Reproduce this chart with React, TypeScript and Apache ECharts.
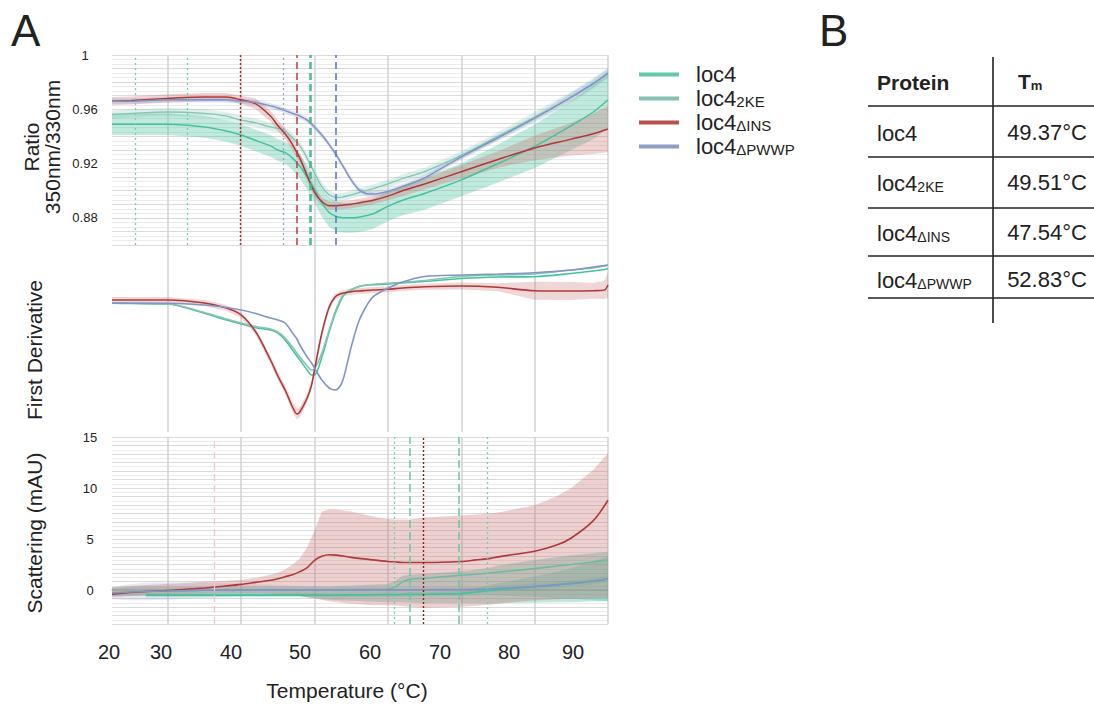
import React, { useEffect, useRef } from 'react';
import * as echarts from 'echarts';

const FONT = '"Liberation Sans", Arial, Helvetica, sans-serif';

// ---------- series identity ----------
const proteins = ['loc4', 'loc4_2KE', 'loc4_ΔINS', 'loc4_ΔPWWP'];
const subscripts = ['', '2KE', 'ΔINS', 'ΔPWWP'];
const tmValues = ['49.37°C', '49.51°C', '47.54°C', '52.83°C'];
const lineColors = ['#45c29d', '#86c4b3', '#b03838', '#7f95c8'];
const legendColors = ['#63c8ac', '#86c0b0', '#b5514f', '#8d9fc5'];

// ---------- panel 1: ratio 350/330 ----------
const tRatio = [22.4, 25, 30, 35, 38, 40, 42, 44, 45, 46, 47, 48, 49, 50, 51, 52, 53, 54, 55, 56, 57, 58, 60, 62, 65, 70, 75, 80, 85, 88, 90];
const ratioLoc4 = [0.949, 0.949, 0.949, 0.947, 0.944, 0.941, 0.937, 0.933, 0.930, 0.928, 0.924, 0.918, 0.910, 0.901, 0.891, 0.884, 0.881, 0.880, 0.880, 0.8805, 0.8815, 0.883, 0.8885, 0.893, 0.898, 0.908, 0.920, 0.9327, 0.948, 0.958, 0.967];
const ratioLoc4Sd = [0.008, 0.008, 0.008, 0.008, 0.008, 0.008, 0.008, 0.008, 0.008, 0.008, 0.009, 0.009, 0.009, 0.010, 0.010, 0.011, 0.011, 0.011, 0.011, 0.011, 0.011, 0.011, 0.011, 0.011, 0.012, 0.012, 0.014, 0.016, 0.018, 0.020, 0.021];
const ratio2KE = [0.956, 0.957, 0.958, 0.957, 0.955, 0.952, 0.950, 0.947, 0.946, 0.944, 0.939, 0.933, 0.924, 0.913, 0.903, 0.897, 0.895, 0.8955, 0.897, 0.8985, 0.900, 0.9015, 0.905, 0.909, 0.914, 0.926, 0.940, 0.954, 0.969, 0.979, 0.9866];
const ratio2KESd = [0.003, 0.003, 0.003, 0.003, 0.003, 0.003, 0.003, 0.003, 0.003, 0.003, 0.003, 0.003, 0.003, 0.003, 0.003, 0.003, 0.003, 0.003, 0.003, 0.003, 0.003, 0.003, 0.003, 0.003, 0.003, 0.003, 0.003, 0.004, 0.004, 0.004, 0.004];
const ratioINS = [0.966, 0.9665, 0.968, 0.969, 0.969, 0.967, 0.964, 0.955, 0.948, 0.942, 0.934, 0.924, 0.911, 0.899, 0.892, 0.889, 0.889, 0.8895, 0.890, 0.891, 0.892, 0.893, 0.896, 0.900, 0.905, 0.914, 0.923, 0.9315, 0.938, 0.942, 0.9455];
const ratioINSSd = [0.003, 0.003, 0.003, 0.003, 0.003, 0.003, 0.004, 0.004, 0.004, 0.004, 0.004, 0.004, 0.004, 0.004, 0.003, 0.003, 0.003, 0.003, 0.003, 0.003, 0.003, 0.003, 0.003, 0.004, 0.004, 0.005, 0.006, 0.009, 0.012, 0.015, 0.017];
const ratioPWWP = [0.966, 0.966, 0.967, 0.967, 0.967, 0.966, 0.965, 0.9625, 0.961, 0.959, 0.957, 0.955, 0.952, 0.947, 0.941, 0.934, 0.926, 0.917, 0.908, 0.901, 0.898, 0.8975, 0.8995, 0.903, 0.9095, 0.925, 0.939, 0.9535, 0.969, 0.979, 0.9866];
const ratioPWWPSd = [0.002, 0.002, 0.002, 0.002, 0.002, 0.002, 0.002, 0.002, 0.002, 0.002, 0.002, 0.002, 0.002, 0.002, 0.002, 0.002, 0.002, 0.002, 0.002, 0.002, 0.002, 0.002, 0.002, 0.002, 0.002, 0.002, 0.002, 0.002, 0.003, 0.003, 0.003];

// ---------- panel 2: first derivative ----------
const tDeriv = [22.4, 25, 30, 35, 38, 40, 42, 44, 45, 46, 47, 47.6, 48, 49, 49.6, 50, 51, 52, 52.8, 53.5, 54, 55, 56, 57, 58, 60, 62, 65, 70, 75, 80, 85, 88, 89.5, 90];
const derivLoc4 = [-0.33, -0.35, -0.4, -1.33, -2.0, -2.4, -2.77, -3.0, -3.3, -4.0, -5.0, -5.6, -6.0, -7.0, -7.5, -7.5, -5.7, -3.2, -1.4, -0.2, 0.5, 1.0, 1.33, 1.47, 1.53, 1.6, 1.7, 1.85, 2.15, 2.3, 2.33, 2.65, 2.9, 3.05, 3.15];
const deriv2KE = [-0.3, -0.33, -0.38, -1.25, -1.9, -2.3, -2.65, -2.9, -3.2, -3.8, -4.7, -5.3, -5.7, -6.6, -7.0, -6.9, -5.3, -3.0, -1.2, 0.0, 0.6, 1.05, 1.35, 1.5, 1.58, 1.68, 1.78, 1.95, 2.35, 2.5, 2.6, 3.0, 3.2, 3.4, 3.45];
const derivINS = [0, 0, 0, -0.3, -0.8, -1.5, -3.2, -6.0, -7.6, -9.0, -10.7, -11.4, -11.2, -9.8, -8.5, -7.0, -3.3, -0.7, 0.3, 0.6, 0.7, 0.83, 0.9, 0.95, 1.0, 1.07, 1.2, 1.33, 1.4, 1.27, 0.93, 0.9, 0.93, 1.0, 1.5];
const derivINSSd = [0.3, 0.3, 0.3, 0.3, 0.3, 0.3, 0.3, 0.35, 0.4, 0.45, 0.5, 0.55, 0.5, 0.45, 0.4, 0.4, 0.35, 0.3, 0.3, 0.3, 0.3, 0.3, 0.3, 0.3, 0.3, 0.3, 0.3, 0.3, 0.35, 0.4, 0.9, 0.9, 0.8, 0.9, 1.3];
const derivPWWP = [-0.33, -0.33, -0.33, -0.5, -0.75, -1.0, -1.35, -1.8, -2.0, -2.3, -3.3, -3.9, -4.5, -5.7, -6.3, -6.8, -8.0, -8.8, -9.0, -8.6, -7.7, -4.7, -2.2, -0.7, 0.33, 1.17, 1.8, 2.35, 2.5, 2.6, 2.73, 3.0, 3.3, 3.45, 3.5];

// ---------- panel 3: scattering (mAU) ----------
const tScatter = [22.4, 25, 27, 30, 35, 38, 40, 42, 44, 45, 46, 47, 48, 49, 50, 51, 52, 53, 55, 58, 60, 61, 62, 63, 65, 70, 72, 74, 75, 80, 83, 85, 88, 90];
const scatINS = [-0.4, -0.25, -0.15, -0.05, 0.2, 0.4, 0.55, 0.75, 0.95, 1.1, 1.3, 1.5, 1.8, 2.2, 2.9, 3.3, 3.45, 3.42, 3.2, 2.95, 2.8, 2.75, 2.7, 2.7, 2.7, 2.8, 2.95, 3.1, 3.25, 3.8, 4.4, 5.1, 6.8, 8.8];
const scatINSHigh = [0.3, 0.4, 0.5, 0.6, 0.8, 0.9, 1.0, 1.2, 1.5, 1.7, 2.0, 2.5, 3.1, 4.2, 5.8, 7.7, 7.9, 7.9, 7.7, 7.2, 6.95, 6.9, 6.9, 6.9, 7.1, 7.3, 7.4, 7.5, 7.6, 8.3, 9.2, 10.0, 11.8, 13.4];
const scatINSLow = [-0.7, -0.6, -0.5, -0.4, -0.35, -0.3, -0.3, -0.3, -0.35, -0.4, -0.45, -0.5, -0.6, -0.7, -0.8, -0.95, -1.1, -1.2, -1.35, -1.5, -1.5, -1.55, -1.6, -1.65, -1.75, -1.65, -1.55, -1.45, -1.35, -1.0, -0.9, -0.85, -0.8, -0.8];
const scatPWWP = [-0.3, -0.2, -0.15, -0.1, -0.02, 0, 0.01, 0, 0.02, 0, 0.01, 0, 0, 0.02, 0.01, 0, 0, 0.01, 0, 0.02, 0.02, 0.02, 0.03, 0.03, 0.03, 0.05, 0.08, 0.12, 0.15, 0.35, 0.5, 0.65, 0.85, 1.1];
const scatPWWPSd = [0.6, 0.8, 0.85, 0.85, 0.75, 0.65, 0.6, 0.55, 0.5, 0.45, 0.45, 0.4, 0.4, 0.35, 0.35, 0.35, 0.3, 0.3, 0.3, 0.3, 0.3, 0.3, 0.3, 0.3, 0.3, 0.3, 0.3, 0.3, 0.3, 0.3, 0.3, 0.3, 0.3, 0.3];
const scat2KE = [-0.3, -0.2, -0.15, -0.1, -0.02, 0, 0, 0.01, 0, 0.01, 0, 0, 0.02, 0, 0.01, 0.02, 0.02, 0.03, 0.05, 0.05, 0.08, 0.3, 0.8, 1.05, 1.15, 1.45, 1.55, 1.68, 1.75, 2.1, 2.35, 2.5, 2.75, 2.95];
const scat2KEHigh = [0.2, 0.3, 0.35, 0.35, 0.35, 0.35, 0.35, 0.35, 0.35, 0.35, 0.35, 0.35, 0.35, 0.35, 0.35, 0.35, 0.35, 0.4, 0.45, 0.55, 0.6, 0.9, 1.4, 1.5, 1.6, 1.85, 2.0, 2.2, 2.4, 2.95, 3.2, 3.4, 3.6, 3.75];
const scat2KELow = [-0.6, -0.6, -0.6, -0.55, -0.5, -0.5, -0.5, -0.5, -0.5, -0.5, -0.5, -0.55, -0.6, -0.7, -0.8, -0.9, -0.95, -1.0, -1.05, -1.15, -1.2, -1.2, -1.2, -1.25, -1.3, -1.3, -1.3, -1.3, -1.3, -1.25, -1.2, -1.2, -1.1, -1.1];
const scatLoc4 = [null, null, -0.5, -0.5, -0.5, -0.5, -0.5, -0.5, -0.5, -0.5, -0.5, -0.5, -0.5, -0.5, -0.5, -0.5, -0.5, -0.5, -0.48, -0.46, -0.45, -0.45, -0.44, -0.43, -0.42, -0.35, -0.2, -0.02, 0.05, 0.33, 0.5, 0.65, 0.9, 1.1];
const scatLoc4Sd = [null, null, 0.2, 0.2, 0.2, 0.2, 0.2, 0.2, 0.2, 0.2, 0.2, 0.2, 0.2, 0.2, 0.2, 0.2, 0.2, 0.2, 0.2, 0.2, 0.2, 0.2, 0.2, 0.2, 0.2, 0.25, 0.35, 0.5, 0.6, 1.0, 1.3, 1.5, 1.9, 2.2];

// ---------- reference lines ----------
const gridTemps = [30, 40, 50, 60, 70, 80, 90];
const ratioMarks = [
  { t: 25.6, style: 'tealDot' }, { t: 32.6, style: 'tealDot' }, { t: 39.9, style: 'redDot' },
  { t: 45.8, style: 'blueDot' }, { t: 47.54, style: 'redDash' }, { t: 49.37, style: 'tealDash' },
  { t: 49.51, style: 'tealDash' }, { t: 52.83, style: 'blueDash' },
];
const scatterMarks = [
  { t: 36.3, style: 'pinkDash' }, { t: 60.8, style: 'tealDot' }, { t: 63.0, style: 'tealDash2' },
  { t: 64.8, style: 'darkRedDot' }, { t: 69.7, style: 'tealDash2' }, { t: 73.5, style: 'tealDot' },
];
const markStyles: Record<string, any> = {
  tealDot: { color: '#72cdb1', type: [2, 3], width: 1.3 },
  redDot: { color: '#b02c2c', type: [2, 2], width: 1.4 },
  blueDot: { color: '#8ea2d6', type: [2, 3], width: 1.3 },
  redDash: { color: '#c23a3a', type: [7, 4], width: 1.5 },
  tealDash: { color: '#3dbb8f', type: [7, 4], width: 1.5 },
  blueDash: { color: '#5274c2', type: [7, 4], width: 1.5 },
  pinkDash: { color: '#f0c6c6', type: [7, 4], width: 1.3 },
  tealDash2: { color: '#6cc3a6', type: [8, 4], width: 1.5 },
  darkRedDot: { color: '#8e1d1d', type: [2, 2], width: 1.4 },
};

const xTickLabels = ['20', '30', '40', '50', '60', '70', '80', '90'];
const xTickPx = [109, 161, 231, 300, 370, 440, 509, 573];

// ---------- helpers ----------
const pairs = (t: number[], v: (number | null)[]) => t.map((x, i) => [x, v[i]]);

function band(g: number, temps: number[], low: (number | null)[], high: (number | null)[], fill: string) {
  return {
    type: 'custom',
    xAxisIndex: g,
    yAxisIndex: g,
    silent: true,
    z: 2,
    data: [[temps[0], 0]],
    encode: { x: 0, y: 1 },
    renderItem: (_p: any, api: any) => {
      const top: number[][] = [];
      const bot: number[][] = [];
      temps.forEach((t, i) => {
        if (low[i] == null || high[i] == null) return;
        top.push(api.coord([t, high[i]]));
        bot.push(api.coord([t, low[i]]));
      });
      return { type: 'polygon', shape: { points: top.concat(bot.reverse()) }, style: { fill, stroke: null } };
    },
  };
}
const minus = (m: (number | null)[], s: (number | null)[]) => m.map((v, i) => (v == null || s[i] == null ? null : v - (s[i] as number)));
const plus = (m: (number | null)[], s: (number | null)[]) => m.map((v, i) => (v == null || s[i] == null ? null : v + (s[i] as number)));

function line(g: number, name: string, temps: number[], vals: (number | null)[], color: string, width = 1.5) {
  return {
    type: 'line', name, xAxisIndex: g, yAxisIndex: g, z: 3,
    data: pairs(temps, vals), showSymbol: false, smooth: 0.3, connectNulls: false,
    itemStyle: { color }, lineStyle: { color, width }, silent: true,
  };
}

function refLines(g: number, marks: { t: number; style: string }[], withGrid: boolean) {
  const out: any[] = [];
  if (withGrid) {
    out.push({
      type: 'line', xAxisIndex: g, yAxisIndex: g, data: [], silent: true,
      markLine: {
        silent: true, z: 1, symbol: ['none', 'none'], label: { show: false },
        lineStyle: { color: '#d2d2d2', width: 1.5, type: 'solid' },
        data: gridTemps.map((t) => ({ xAxis: t })),
      },
    });
  }
  if (marks.length) {
    out.push({
      type: 'line', xAxisIndex: g, yAxisIndex: g, data: [], silent: true,
      markLine: {
        silent: true, z: 4, symbol: ['none', 'none'], label: { show: false },
        data: marks.map((m) => ({ xAxis: m.t, lineStyle: markStyles[m.style] })),
      },
    });
  }
  return out;
}

const rich = (big: number, small: number, bold = false, pad = 0, lh = big + 2) => ({
  b: { fontSize: big, fontFamily: FONT, color: '#222', fontWeight: bold ? 'bold' : 'normal', padding: [0, 0, 0, pad], lineHeight: lh, verticalAlign: 'bottom' },
  s: { fontSize: small, fontFamily: FONT, color: '#222', fontWeight: bold ? 'bold' : 'normal', lineHeight: lh, verticalAlign: 'bottom', padding: [0, 0, 0, 0] },
});
const protLabel = (i: number) => (subscripts[i] ? `{b|loc4}{s|${subscripts[i]}}` : '{b|loc4}');

export default function App() {
  const ref = useRef<HTMLDivElement>(null);
  useEffect(() => {
    if (!ref.current) return;
    const chart = echarts.init(ref.current, undefined, { renderer: 'svg' });
    const grids = [
      { left: 112, width: 496, top: 55, height: 190 },
      { left: 112, width: 496, top: 245, height: 187 },
      { left: 112, width: 496, top: 437, height: 187 },
    ];
    const xAxes = [0, 1, 2].map((g) => ({
      type: 'value', gridIndex: g, min: 22.4, max: 90,
      axisLine: { show: g === 2, lineStyle: { color: '#c6c6c6', width: 1.5 } },
      axisTick: { show: false }, axisLabel: { show: false }, splitLine: { show: false },
    }));
    const yAxes = [
      {
        type: 'value', gridIndex: 0, min: 0.86, max: 1.0, interval: 0.01,
        axisLine: { show: false }, axisTick: { show: false },
        axisLabel: {
          align: 'center', margin: 27, fontSize: 13, color: '#222', fontFamily: FONT,
          formatter: (v: number) => {
            const r = Math.round(v * 100);
            if (r % 4 !== 0 || r < 88) return '';
            return r === 100 ? '1' : (r / 100).toFixed(2);
          },
        },
        splitLine: { lineStyle: { color: '#dadada', width: 1 } },
        minorTick: { show: false, splitNumber: 3 },
        minorSplitLine: { show: true, lineStyle: { color: '#ececec', width: 1 } },
      },
      {
        type: 'value', gridIndex: 1, min: -13.2, max: 5.5,
        axisLine: { show: false }, axisTick: { show: false }, axisLabel: { show: false }, splitLine: { show: false },
      },
      {
        type: 'value', gridIndex: 2, min: -10 / 3, max: 15, interval: 5 / 6,
        axisLine: { show: false }, axisTick: { show: false },
        axisLabel: {
          align: 'center', margin: 22, fontSize: 13, color: '#222', fontFamily: FONT,
          formatter: (v: number) => {
            const r = Math.round(v);
            return Math.abs(v - r) < 1e-6 && r % 5 === 0 && r >= 0 ? String(r) : '';
          },
        },
        splitLine: { lineStyle: { color: '#dadada', width: 1 } },
        minorTick: { show: false, splitNumber: 2 },
        minorSplitLine: { show: true, lineStyle: { color: '#ececec', width: 1 } },
      },
    ];

    const series: any[] = [
      ...refLines(0, ratioMarks, true),
      ...refLines(1, [], true),
      ...refLines(2, scatterMarks, true),
      // ratio bands + lines
      band(0, tRatio, minus(ratioLoc4, ratioLoc4Sd), plus(ratioLoc4, ratioLoc4Sd), 'rgba(72,192,158,0.34)'),
      band(0, tRatio, minus(ratio2KE, ratio2KESd), plus(ratio2KE, ratio2KESd), 'rgba(120,196,176,0.25)'),
      band(0, tRatio, minus(ratioINS, ratioINSSd), plus(ratioINS, ratioINSSd), 'rgba(196,96,96,0.28)'),
      band(0, tRatio, minus(ratioPWWP, ratioPWWPSd), plus(ratioPWWP, ratioPWWPSd), 'rgba(128,148,200,0.25)'),
      line(0, proteins[0], tRatio, ratioLoc4, lineColors[0]),
      line(0, proteins[1], tRatio, ratio2KE, lineColors[1], 1.3),
      line(0, proteins[2], tRatio, ratioINS, lineColors[2]),
      line(0, proteins[3], tRatio, ratioPWWP, lineColors[3]),
      // derivative
      band(1, tDeriv, minus(derivINS, derivINSSd), plus(derivINS, derivINSSd), 'rgba(196,96,96,0.25)'),
      line(1, proteins[0], tDeriv, derivLoc4, lineColors[0], 1.6),
      line(1, proteins[1], tDeriv, deriv2KE, lineColors[1], 1.6),
      line(1, proteins[2], tDeriv, derivINS, lineColors[2], 1.6),
      line(1, proteins[3], tDeriv, derivPWWP, lineColors[3], 1.6),
      // scattering
      band(2, tScatter, minus(scatPWWP, scatPWWPSd), plus(scatPWWP, scatPWWPSd), 'rgba(128,148,200,0.2)'),
      band(2, tScatter, scat2KELow, scat2KEHigh, 'rgba(90,190,165,0.38)'),
      band(2, tScatter, minus(scatLoc4, scatLoc4Sd), plus(scatLoc4, scatLoc4Sd), 'rgba(72,192,158,0.3)'),
      band(2, tScatter, scatINSLow, scatINSHigh, 'rgba(196,100,100,0.3)'),
      line(2, proteins[0], tScatter, scatLoc4, lineColors[0], 1.8),
      line(2, proteins[1], tScatter, scat2KE, '#6fbaa3', 1.6),
      line(2, proteins[2], tScatter, scatINS, lineColors[2], 1.6),
      line(2, proteins[3], tScatter, scatPWWP, lineColors[3], 1.6),
    ];

    const txt = (x: number, y: number, text: string, size: number, extra: any = {}) => ({
      type: 'text', x, y, silent: true,
      style: { text, fontSize: size, fontFamily: FONT, fill: '#222', align: 'left', verticalAlign: 'middle', ...extra },
    });
    const hline = (x1: number, x2: number, y: number) => ({
      type: 'line', silent: true, shape: { x1, y1: y, x2, y2: y }, style: { stroke: '#222', lineWidth: 1.6 },
    });

    const tableRowsY = [132, 182, 232, 279];
    const graphic: any[] = [
      txt(11, 30, 'A', 44),
      txt(819, 30, 'B', 44),
      { ...txt(42, 147, 'Ratio\n350nm/330nm', 21, { align: 'center', lineHeight: 21 }), rotation: Math.PI / 2 },
      { ...txt(34, 350, 'First Derivative', 21, { align: 'center' }), rotation: Math.PI / 2 },
      { ...txt(34, 533, 'Scattering (mAU)', 21, { align: 'center' }), rotation: Math.PI / 2 },
      ...xTickLabels.map((l, i) => txt(xTickPx[i], 652, l, 20, { align: 'center' })),
      txt(347, 690, 'Temperature (°C)', 21, { align: 'center' }),
      // table B
      txt(877, 82, 'Protein', 21, { fontWeight: 'bold' }),
      txt(1018, 80, '{b|T}{s|m}', 21, { rich: rich(21, 13, true) }),
      hline(868, 1094, 106),
      hline(868, 1094, 157),
      hline(868, 1094, 208),
      hline(868, 1094, 256),
      hline(868, 1094, 298),
      { type: 'line', silent: true, shape: { x1: 993, y1: 57, x2: 993, y2: 323 }, style: { stroke: '#222', lineWidth: 1.6 } },
      ...proteins.map((_, i) => txt(877, tableRowsY[i], protLabel(i), 22, { rich: rich(22, 14) })),
      ...tmValues.map((v, i) => txt(1047, tableRowsY[i], v, 22, { align: 'center' })),
    ];

    chart.setOption({
      animation: false,
      backgroundColor: '#ffffff',
      grid: grids,
      xAxis: xAxes,
      yAxis: yAxes,
      legend: {
        orient: 'vertical', left: 634, top: 58, itemWidth: 40, itemHeight: 4, itemGap: 2,
        icon: 'rect', selectedMode: false, data: proteins.map((p, i) => ({ name: p, itemStyle: { color: legendColors[i] } })),
        formatter: (name: string) => protLabel(proteins.indexOf(name)),
        textStyle: { fontFamily: FONT, fontSize: 22, color: '#222', rich: rich(22, 15, false, 12, 21) },
      },
      series,
      graphic,
    });
    return () => chart.dispose();
  }, []);
  return <div ref={ref} style={{ width: 1094, height: 707, position: 'absolute', left: 0, top: 0 }} />;
}
